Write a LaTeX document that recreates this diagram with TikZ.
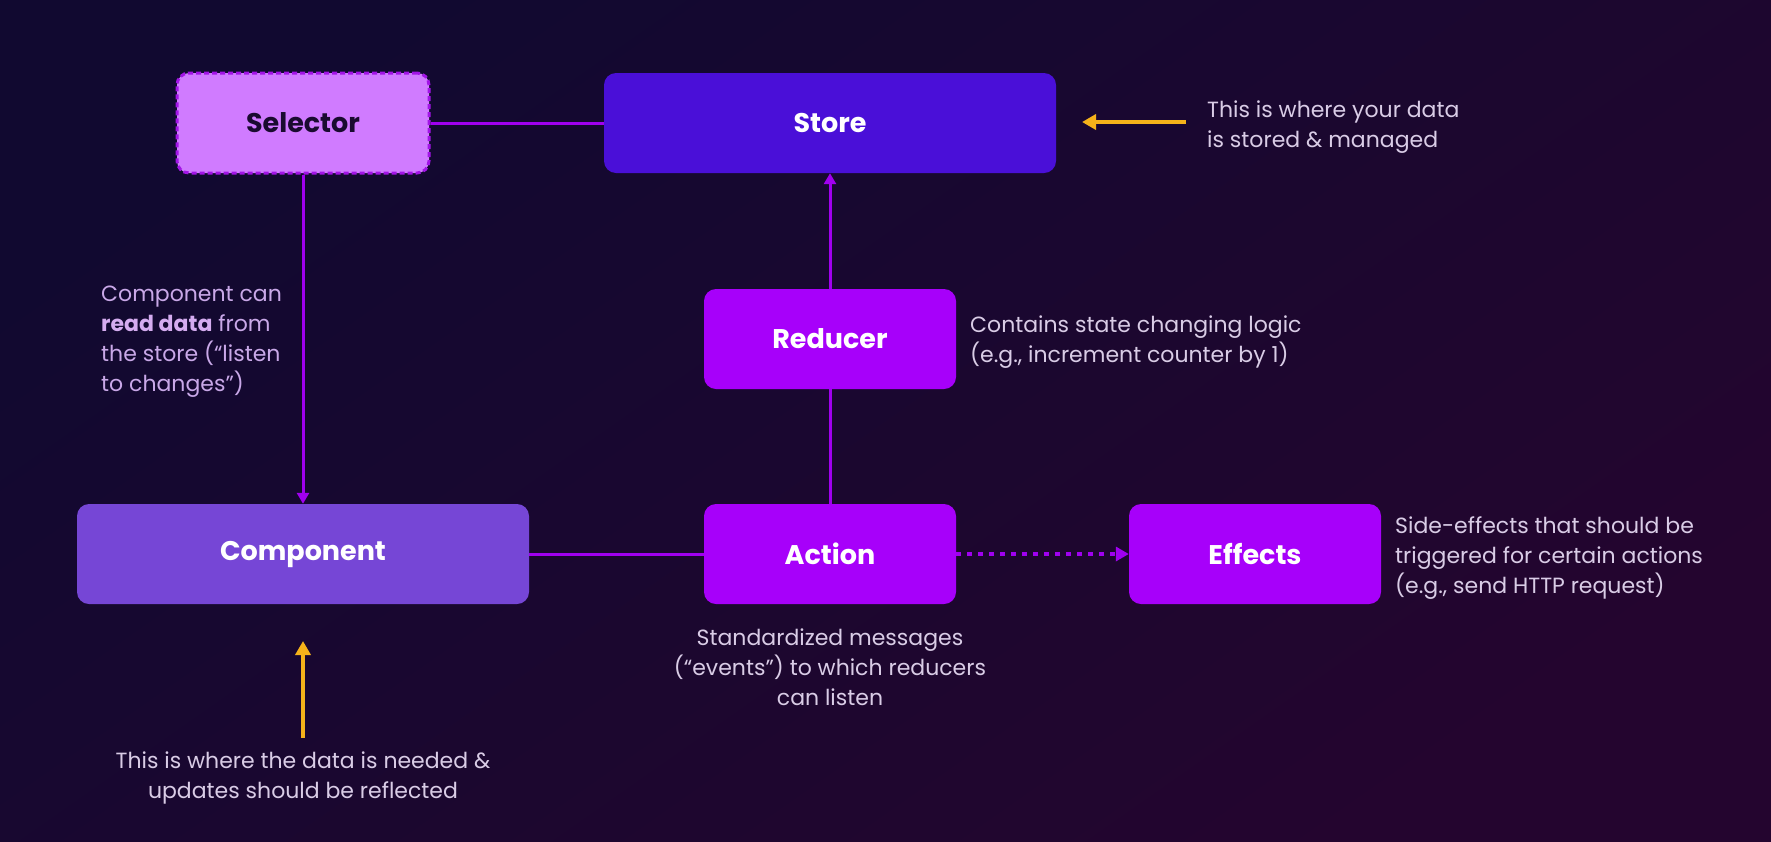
\documentclass[tikz,border=0pt]{standalone}
\usepackage{fontspec}
\setmainfont{Poppins}
\usetikzlibrary{arrows.meta,positioning}
\definecolor{bgA}{HTML}{110930}
\definecolor{bgB}{HTML}{24052F}
\definecolor{selfill}{HTML}{D07BFF}
\definecolor{selborder}{HTML}{A214E6}
\definecolor{storefill}{HTML}{4A0FD8}
\definecolor{vivid}{HTML}{A700FA}
\definecolor{compfill}{HTML}{7646D6}
\definecolor{conn}{HTML}{A000F0}
\definecolor{gold}{HTML}{F5B21A}
\definecolor{note}{HTML}{D9CCE6}
\definecolor{notel}{HTML}{C9A8E8}
\definecolor{darktext}{HTML}{1A0B30}
\tikzset{
  box/.style={rounded corners=12pt, minimum height=100pt, inner sep=0pt,
    font=\fontsize{27}{32}\selectfont\bfseries, text=white},
  small/.style={box, minimum width=252pt, fill=vivid},
  large/.style={box, minimum width=452pt},
  con/.style={draw=conn, line width=3pt},
  conarrow/.style={con, -{Triangle[length=11pt,width=12pt]}},
  goldarrow/.style={draw=gold, line width=3.5pt, -{Triangle[length=14pt,width=15pt]}},
  note/.style={text=note, font=\fontsize{22}{30}\selectfont, align=left, inner sep=0pt},
}
\begin{document}
\begin{tikzpicture}[x=1pt,y=-1pt]
\useasboundingbox (0,0) rectangle (1771,841);
\shade[top color=bgA, bottom color=bgB, shading angle=35] (0,0) rectangle (1771,841);

% nodes
\node[box, minimum width=252pt, fill=selfill, draw=selborder, line width=3pt,
      dash pattern=on 5pt off 3pt, text=darktext] (sel) at (303,123) {Selector};
\node[large, fill=storefill] (store) at (830,123) {Store};
\node[small] (red) at (830,339) {Reducer};
\node[large, fill=compfill] (comp) at (303,554) {Component};
\node[small] (act) at (830,554) {Action};
\node[small] (eff) at (1255,554) {Effects};

% connectors
\draw[con] (sel.east) -- (store.west);
\draw[conarrow] (sel.south) -- (comp.north);
\draw[con] (act.west) -- (comp.east);
\draw[con] (act.north) -- (red.south);
\draw[conarrow] (red.north) -- (store.south);
\draw[draw=conn, line width=3.5pt, dash pattern=on 5pt off 6pt, -{Triangle[length=13pt,width=14pt]}] (act.east) -- (eff.west);

% gold arrows
\coordinate (ga1) at (1186,122);
\coordinate (ga1e) at (1082,122);
\draw[goldarrow] (ga1) -- (ga1e);
\coordinate (ga2) at (303,738);
\coordinate (ga2e) at (303,641);
\draw[goldarrow] (ga2) -- (ga2e);

% notes
\node[note, anchor=north west] (n1) at (1207,101) {This is where your data\\is stored \& managed};
\node[note, text=notel, anchor=north west] (n2) at (101,286) {Component can\\{\bfseries\color{note!60!selfill}read data} from\\the store (“listen\\to changes”)};
\node[note, anchor=north west] (n3) at (970,316) {Contains state changing logic\\(e.g., increment counter by 1)};
\node[note, anchor=north west] (n4) at (1395,516) {Side-effects that should be\\triggered for certain actions\\(e.g., send HTTP request)};
\node[note, align=center, anchor=north] (n5) at (830,629) {Standardized messages\\(“events”) to which reducers\\can listen};
\node[note, align=center, anchor=north] (n6) at (303,752) {This is where the data is needed \&\\updates should be reflected};
\end{tikzpicture}
\end{document}
